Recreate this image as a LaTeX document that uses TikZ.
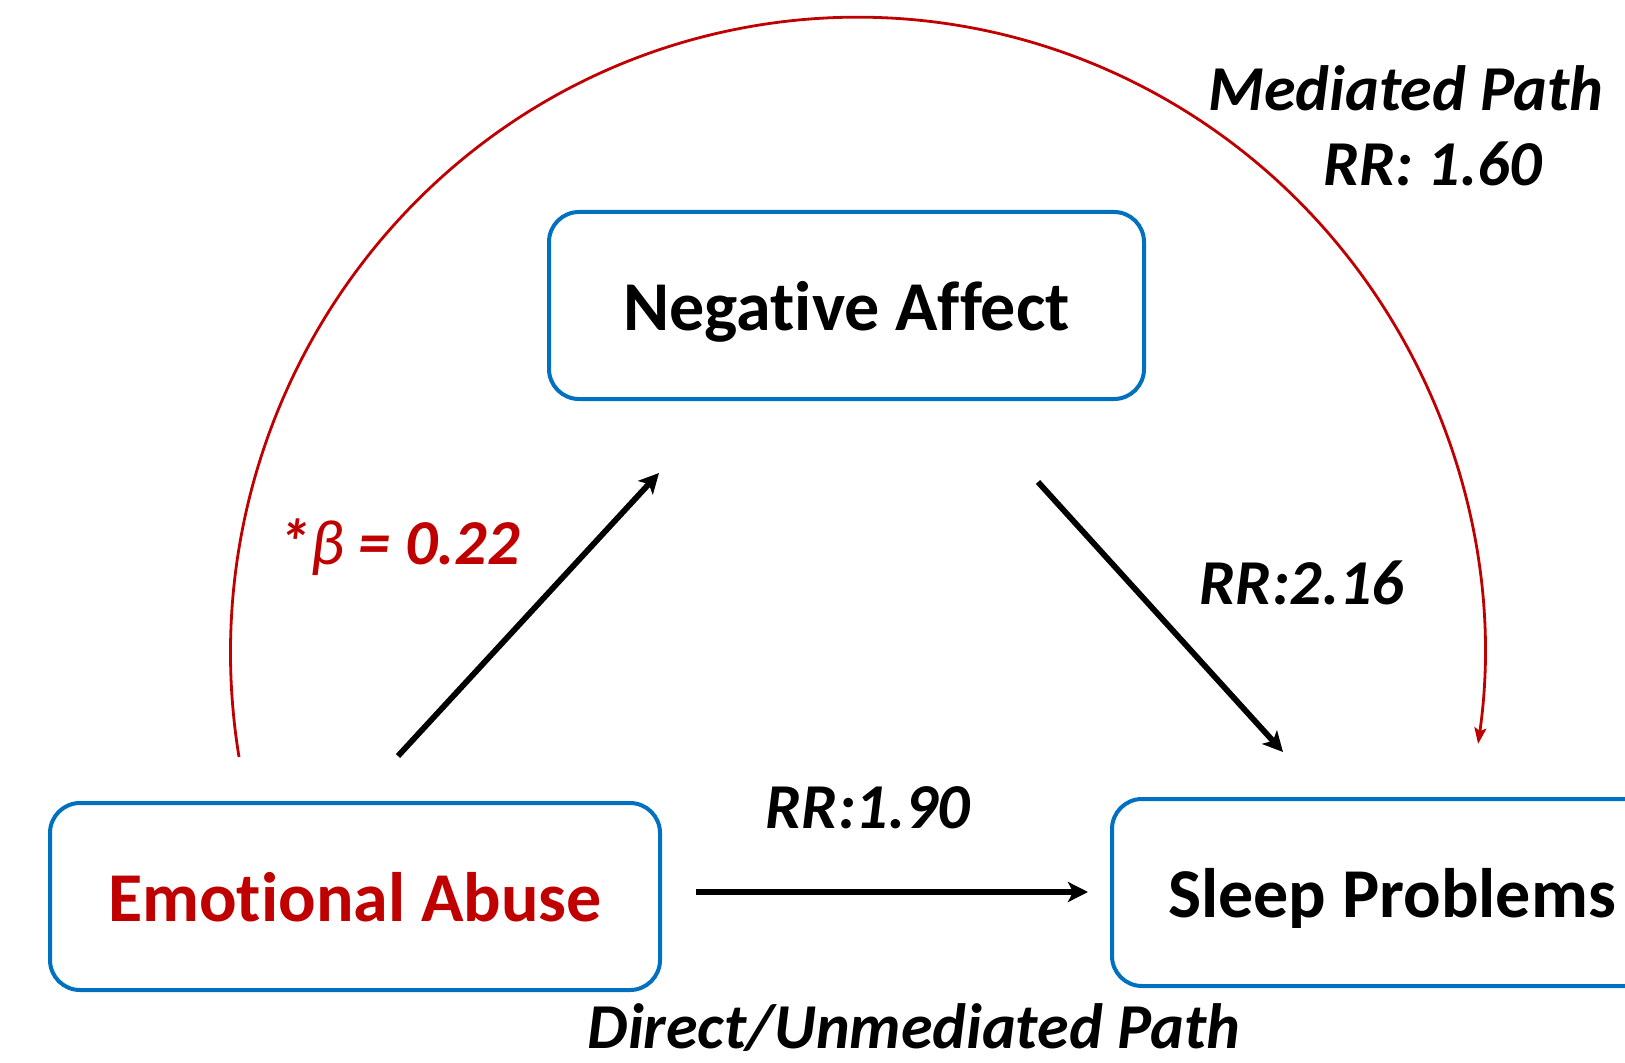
\documentclass[tikz,border=0pt]{standalone}
\usepackage{fontspec}
\setmainfont[Ligatures=NoCommon]{Carlito}
\usetikzlibrary{arrows.meta}
\definecolor{boxblue}{HTML}{0070C0}
\definecolor{pathred}{HTML}{C00000}

\begin{document}
\begin{tikzpicture}[x=0.5pt, y=0.5pt,
        varbox/.style={draw=boxblue, line width=2pt, rounded corners=15pt, minimum height=93.5pt,
            inner sep=0pt, text depth=0pt, font=\fontsize{35}{42}\selectfont\bfseries},
        coef/.style={font=\fontsize{32}{38}\selectfont\bfseries\itshape},
        patharrow/.style={line width=2.9pt, -{Stealth[length=10pt, width=10pt, inset=2.5pt]}},
        mediated/.style={draw=pathred, line width=1.4pt, -{Stealth[length=8pt, width=6pt, inset=1.5pt]}}]
        \useasboundingbox (0,0) rectangle (1625,1062);
        \clip (0,0) rectangle (1625,1062);
        %\draw[gray, dashed] (0,0) grid[step=100] (1625,1062);

        \node (abuse) [varbox, minimum width=305pt, text=pathred] at (355,165.5) {Emotional Abuse};
        \node (affect) [varbox, minimum width=297.5pt] at (846.5,756.5) {Negative Affect};
        \node (sleep) [varbox, minimum width=280pt] at (1392,169.5) {Sleep Problems};

        % a and b paths
        \coordinate (a-start) at (398,306);
        \coordinate (a-end) at (659,589);
        \coordinate (b-start) at (1038,580);
        \coordinate (b-end) at (1283,310);
        \draw[patharrow] (a-start) -- (a-end);
        \draw[patharrow] (b-start) -- (b-end);

        % direct path
        \coordinate (c-start) at (696,170);
        \coordinate (c-end) at (1088,170);
        \draw[patharrow] (c-start) -- (c-end);

        % mediated path
        \coordinate (arc-start) at (239,305);
        \draw[mediated] (arc-start) arc[start angle=189.4, end angle=-8.2, x radius=627, y radius=636];

        \node (beta) [coef, text=pathred] at (399,515) {*{\mdseries β} = 0.22};
        \node (rr-b) [coef] at (1302,479) {RR:2.16};
        \node (rr-c) [coef] at (868,254) {RR:1.90};
        \node (direct) [coef] at (914,34) {Direct/Unmediated Path};
        \node (med) [coef] at (1406,974) {Mediated Path};
        \node (rr-med) [coef] at (1433,898) {RR: 1.60};
    \end{tikzpicture}
\end{document}
